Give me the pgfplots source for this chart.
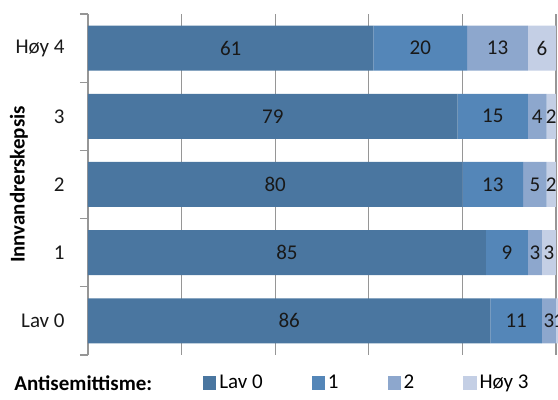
\documentclass[border=0pt]{standalone}
\usepackage{fontspec}
\setmainfont{Carlito}
\usepackage{pgfplots}
\pgfplotsset{compat=1.18}
\pgfplotsset{/pgf/number format/assume math mode=true}

\definecolor{lav0}{RGB}{74,118,160}
\definecolor{en}{RGB}{84,134,184}
\definecolor{to}{RGB}{141,167,205}
\definecolor{hoy3}{RGB}{196,207,229}
\definecolor{gridgray}{RGB}{150,150,150}

\begin{document}
\fontsize{10.5}{12.6}\selectfont
\begin{tikzpicture}
\begin{axis}[
    at={(0,0)}, anchor=south west,
    scale only axis,
    width=234pt, height=170.5pt,
    xbar stacked,
    bar width=22.5pt,
    xmin=0, xmax=100,
    ymin=-0.5, ymax=4.5,
    clip=false,
    ytick={0,1,2,3,4},
    yticklabels={Lav 0,1,2,3,Høy 4},
    minor ytick={-0.5,0.5,...,4.5},
    yticklabel style={xshift=-8pt, text=black!90},
    xtick={0,20,...,100},
    xticklabels={},
    xmajorgrids,
    grid style={gridgray, line width=0.6pt},
    axis lines*=left,
    x axis line style={draw=none},
    y axis line style={gridgray, line width=0.6pt},
    tick align=outside,
    major tick length=0pt,
    minor tick length=4pt,
    minor tick style={gridgray, line width=0.6pt},
    nodes near coords,
    every node near coord/.append style={text=black!90},
    legend columns=4,
    legend style={draw=none, fill=none, at={(axis description cs:0.245,-0.082)},
        anchor=west, inner sep=0pt,
        /tikz/every even column/.append style={column sep=23pt},
        nodes={inner sep=1.5pt}},
    legend image code/.code={\fill[#1] (0pt,-3.3pt) rectangle (6.6pt,3.3pt);},
]
\addplot[fill=lav0, draw=none] coordinates {(86,0) (85,1) (80,2) (79,3) (61,4)};
\addplot[fill=en, draw=none] coordinates {(11,0) (9,1) (13,2) (15,3) (20,4)};
\addplot[fill=to, draw=none] coordinates {(3,0) (3,1) (5,2) (4,3) (13,4)};
\addplot[fill=hoy3, draw=none] coordinates {(1,0) (3,1) (2,2) (2,3) (6,4)};
\legend{Lav 0, 1, 2, Høy 3}
\end{axis}
\node[font=\bfseries, rotate=90, anchor=center] at (-34.5pt,85.25pt) {Innvandrerskepsis};
\node[font=\bfseries, anchor=west, inner sep=0pt] at (-37pt,-14pt) {Antisemittisme:};
\pgfresetboundingbox
\useasboundingbox (-44pt,-22.5pt) rectangle (235pt,177.5pt);
\end{tikzpicture}
\end{document}
